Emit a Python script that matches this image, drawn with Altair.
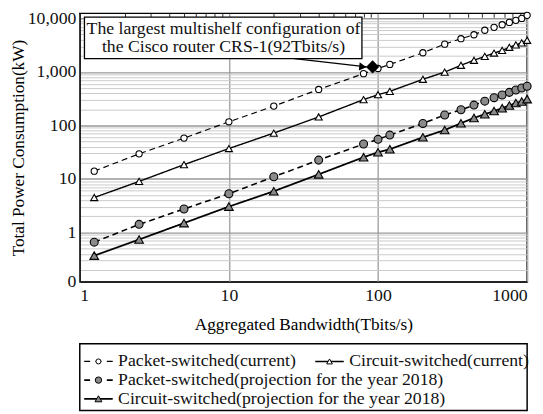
import altair as alt
import pandas as pd

# ---------------- data ----------------
bandwidth = [1.25, 2.5, 5, 10, 20, 40, 80, 100, 120, 200, 280, 360, 440, 520, 600, 680, 760, 840, 920, 1000]
packet_current = [14, 29.5, 58, 117, 230, 470, 927, 1160, 1380, 2280, 3300, 4170, 4950, 6000, 6800, 7600, 8400, 9200, 10000, 11400]
circuit_current = [4.5, 9.0, 18.5, 37, 72, 144, 304, 375, 433, 728, 993, 1330, 1650, 1950, 2250, 2520, 2880, 3200, 3480, 3900]
packet_2018 = [0.66, 1.42, 2.75, 5.3, 11, 22.5, 45, 55, 66, 109, 157, 196, 240, 284, 330, 370, 415, 460, 500, 540]
circuit_2018 = [0.37, 0.74, 1.5, 3.05, 5.9, 12.2, 25.5, 31.5, 36, 60, 82, 110, 138, 162, 186, 210, 236, 262, 280, 310]

series_names = [
    "Packet-switched(current)",
    "Circuit-switched(current)",
    "Packet-switched(projection for the year 2018)",
    "Circuit-switched(projection for the year 2018)",
]
series_values = [packet_current, circuit_current, packet_2018, circuit_2018]

crs1_bandwidth = [92]
crs1_power = [1240]
annotation_lines = ["The largest multishelf configuration of", "the Cisco router CRS-1(92Tbits/s)"]

# annotation box / arrow in data coordinates
box_x = [1.075, 78]
box_y = [1770, 10600]
text_x = [9.2, 9.2]
text_y = [6400, 2940]
arrow_from = [27.5, 1770]
arrow_to = [84, 1245]

decades_y = [1, 10, 100, 1000, 10000]
y_domain = [0.12, 12400]
x_domain = [1, 1000]

legend_rows = [0, 0, 1, 2]
legend_cols = [0, 1, 0, 0]

# ---------------- tables ----------------
rows = []
for name, vals in zip(series_names, series_values):
    for b, v in zip(bandwidth, vals):
        rows.append({"bandwidth": b, "power": v, "series": name})
df = pd.DataFrame(rows)

minor_y = [m * 10 ** e for e in range(-1, 4) for m in range(2, 10)]
y_values = [y_domain[0]] + sorted(minor_y + decades_y)
x_values = [m * 10 ** e for e in range(0, 3) for m in range(1, 10)] + [1000]

FONT = "Liberation Serif"
dash_range = [[6, 4], [1, 0], [6, 4], [1, 0]]
shape_range = ["circle", "triangle-up", "circle", "triangle-up"]
fill_range = ["white", "white", "#8a8a8a", "#8a8a8a"]
size_range = [40, 78, 40, 78]

xs = alt.Scale(type="log", domain=x_domain, nice=False)
ys = alt.Scale(type="log", domain=y_domain, nice=False)

is_x_decade = "indexof([1,10,100,1000], datum.value) >= 0"
is_y_decade = "indexof([1,10,100,1000,10000], datum.value) >= 0"

xaxis = alt.Axis(
    values=x_values,
    labelExpr=f"{is_x_decade} ? format(datum.value, 'd') : ''",
    labelFlush=True,
    labelOverlap=False,
    labelFontSize=18,
    labelColor="#111",
    labelPadding=5,
    ticks=False,
    domainColor="#222",
    domainWidth=1.5,
    gridColor={"condition": {"test": is_x_decade, "value": "#a8a8a8"}, "value": "#333"},
    gridDash={"condition": {"test": is_x_decade, "value": []}, "value": [4, 1000]},
    gridWidth={"condition": {"test": is_x_decade, "value": 1.5}, "value": 1},
    titleFontSize=17.5,
    titleFontWeight="normal",
    titleColor="black",
    titlePadding=12,
)
yaxis = alt.Axis(
    values=y_values,
    labelExpr=f"{is_y_decade} ? format(datum.value, ',') : (datum.value < 0.15 ? '0' : '')",
    labelOverlap=False,
    labelFontSize=18,
    labelColor="#111",
    labelPadding=4,
    ticks=False,
    domainColor="#222",
    domainWidth=1.5,
    gridColor={"condition": {"test": is_y_decade, "value": "#999999"}, "value": "#cacaca"},
    gridWidth={"condition": {"test": is_y_decade, "value": 1.5}, "value": 1},
    titleFontSize=17.5,
    titleFontWeight="normal",
    titleColor="black",
    titlePadding=0,
)
XT = "Aggregated Bandwidth(Tbits/s)"
YT = "Total Power Consumption(kW)"


def X(f):
    return alt.X(f, type="quantitative", scale=xs, axis=xaxis, title=XT)


def Y(f):
    return alt.Y(f, type="quantitative", scale=ys, axis=yaxis, title=YT)


base = alt.Chart(df)

lines = base.mark_line(color="black").encode(
    x=X("bandwidth"),
    y=Y("power"),
    detail="series:N",
    strokeDash=alt.StrokeDash("series:N", scale=alt.Scale(domain=series_names, range=dash_range), legend=None),
    strokeWidth=alt.StrokeWidth("series:N", scale=alt.Scale(domain=series_names, range=[1.2, 1.8, 1.2, 1.8]), legend=None),
)

points = base.mark_point(filled=True, stroke="black", strokeWidth=1.1, opacity=1).encode(
    x=X("bandwidth"),
    y=Y("power"),
    shape=alt.Shape("series:N", scale=alt.Scale(domain=series_names, range=shape_range), legend=None),
    fill=alt.Fill("series:N", scale=alt.Scale(domain=series_names, range=fill_range), legend=None),
    size=alt.Size("series:N", scale=alt.Scale(domain=series_names, range=size_range), legend=None),
)

crs_df = pd.DataFrame({"bandwidth": crs1_bandwidth, "power": crs1_power})
crs = alt.Chart(crs_df).mark_point(shape="diamond", filled=True, color="black", size=180, opacity=1).encode(
    x=X("bandwidth"), y=Y("power")
)

box_df = pd.DataFrame({"x1": [box_x[0]], "x2": [box_x[1]], "y1": [box_y[0]], "y2": [box_y[1]]})
box = alt.Chart(box_df).mark_rect(fill="white", stroke="black", strokeWidth=1.3).encode(
    x=X("x1"), x2="x2", y=Y("y1"), y2="y2"
)

text_df = pd.DataFrame({"x": text_x, "y": text_y, "t": annotation_lines})
text = alt.Chart(text_df).mark_text(
    font=FONT, fontSize=18, align="center", baseline="middle", color="#111"
).encode(x=X("x"), y=Y("y"), text="t:N")

arrow_df = pd.DataFrame({"x1": [arrow_from[0]], "y1": [arrow_from[1]], "x2": [arrow_to[0]], "y2": [arrow_to[1]]})
arrow = alt.Chart(arrow_df).mark_rule(color="black", strokeWidth=1.2).encode(
    x=X("x1"), y=Y("y1"), x2="x2", y2="y2"
)
head = alt.Chart(arrow_df).mark_point(
    shape="triangle-right", filled=True, color="black", size=70, angle=6, opacity=1, xOffset=-4
).encode(x=X("x2"), y=Y("y2"))

main = alt.layer(lines, points, box, text, arrow, head, crs).properties(width=455, height=273)

# ---------------- legend ----------------
leg_df = pd.DataFrame({"item": series_names, "row": legend_rows, "col": legend_cols})
lx = alt.X("col:Q", scale=alt.Scale(domain=[0, 1], range=[19, 254]), axis=None)
ly = alt.Y("row:Q", scale=alt.Scale(domain=[0, 2], range=[18, 56], zero=False, nice=False), axis=None)
lbase = alt.Chart(leg_df)
leg_line = lbase.mark_point(shape="M-1,0L1,0", filled=False, stroke="black", size=841, opacity=1).encode(
    x=lx, y=ly,
    strokeDash=alt.StrokeDash("item:N", scale=alt.Scale(domain=series_names, range=[[6, 5.5], [1, 0], [6, 5.5], [1, 0]]), legend=None),
    strokeWidth=alt.StrokeWidth("item:N", scale=alt.Scale(domain=series_names, range=[1.2, 1.8, 1.2, 1.8]), legend=None),
)
leg_sym = lbase.mark_point(filled=True, stroke="black", strokeWidth=1.0, opacity=1).encode(
    x=lx, y=ly,
    shape=alt.Shape("item:N", scale=alt.Scale(domain=series_names, range=shape_range), legend=None),
    fill=alt.Fill("item:N", scale=alt.Scale(domain=series_names, range=fill_range), legend=None),
    size=alt.Size("item:N", scale=alt.Scale(domain=series_names, range=[26, 50, 26, 50]), legend=None),
)
leg_text = lbase.mark_text(font=FONT, fontSize=18, align="left", baseline="middle", dx=20, color="#111").encode(
    x=lx, y=ly, text="item:N"
)
legend = alt.layer(leg_line, leg_sym, leg_text).properties(width=455, height=68)

chart = alt.vconcat(main, legend, spacing=63, bounds="flush").resolve_scale(
    x="independent", y="independent", size="independent", shape="independent",
    fill="independent", strokeDash="independent", strokeWidth="independent",
).properties(
    padding={"left": 0, "top": -3, "right": 0, "bottom": 0}
).configure(font=FONT).configure_view(stroke="black", strokeWidth=1.5).configure_axis(labelFont=FONT, titleFont=FONT)

chart.save("out.html", embed_options={"renderer": "svg", "actions": False})
